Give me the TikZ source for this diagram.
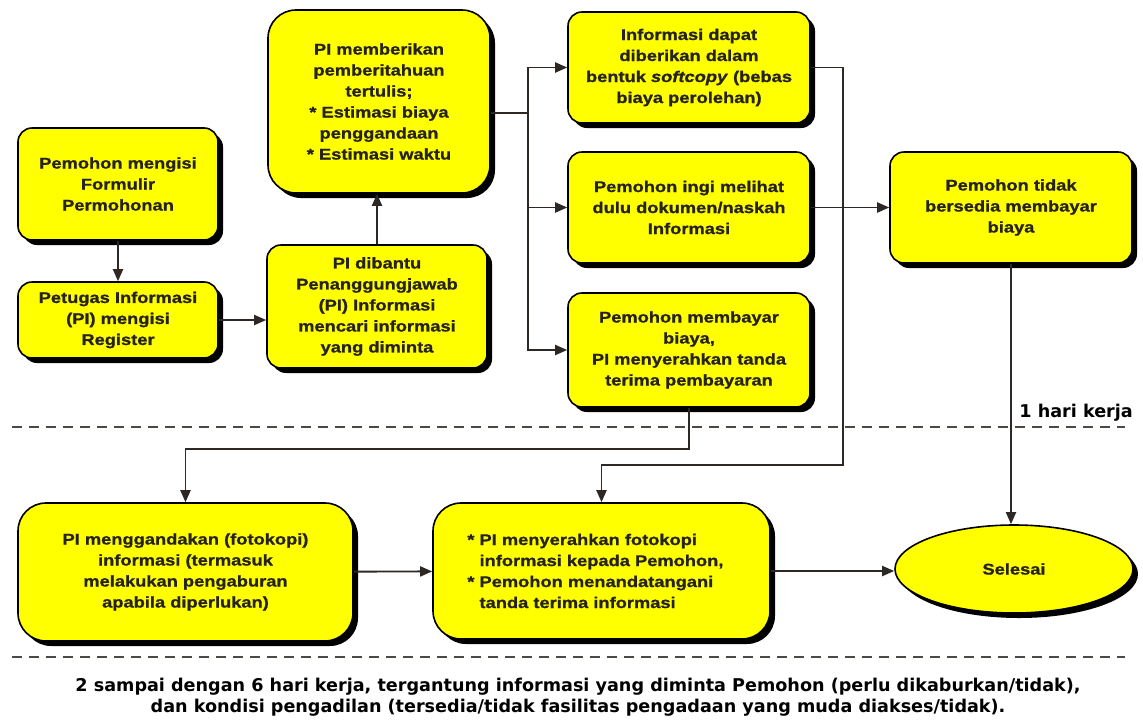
\documentclass[tikz,border=0pt]{standalone}
\usepackage{fontspec}
\usepackage{tikz}
\usetikzlibrary{positioning,arrows.meta,shapes.geometric,shadows,calc}
\newfontfamily\boxfont{Liberation Sans}[FakeStretch=1.18,FakeBold=1]
\newfontfamily\notefont{DejaVu Sans}
\definecolor{yel} {RGB}{255,255,  0}
\definecolor{ink} {RGB}{ 38, 34, 30}
\definecolor{wire}{RGB}{ 45, 40, 35}

\begin{document}
\begin{tikzpicture}[x=1pt,y=-1pt,
    tile/.style={draw=black,line width=1.6pt,fill=yel,text=ink,align=center,inner sep=0pt,
        font=\boxfont\bfseries\fontsize{15.5}{21}\selectfont,
        drop shadow={shadow xshift=5pt,shadow yshift=-5pt,fill=black,opacity=1}},
    box/.style={tile,rounded corners=14pt},
    bigbox/.style={tile,rounded corners=28pt},
    stop/.style={tile,ellipse},
    conn/.style={draw=wire,line width=1.9pt},
    link/.style={conn,-{Triangle[length=12pt,width=10pt]}},
    cut/.style={draw=wire!85,line width=1.7pt,dash pattern=on 10pt off 7pt},
    note/.style={text=black,align=center,inner sep=0pt,
        font=\notefont\bfseries\fontsize{17.6}{20.5}\selectfont}]

    \useasboundingbox (0,0) rectangle (1143,726);

    \node[box,minimum width=200pt,minimum height=112pt] (a) at (118,184) {Pemohon mengisi\\Formulir\\Permohonan};
    \node[box,minimum width=200pt,minimum height=76pt] (b) at (118,320) {Petugas Informasi\\(PI) mengisi\\Register};
    \node[box,minimum width=220pt,minimum height=123pt] (c) at (377,306.5) {PI dibantu\\Penanggungjawab\\(PI) Informasi\\mencari informasi\\yang diminta};
    \node[bigbox,minimum width=222pt,minimum height=183pt] (d) at (379,101.5) {PI memberikan\\pemberitahuan\\tertulis;\\* Estimasi biaya\\penggandaan\\* Estimasi waktu};

    \node[box,minimum width=242pt,minimum height=111pt] (e) at (689,67.5) {Informasi dapat\\diberikan dalam\\bentuk \textit{softcopy} (bebas\\biaya perolehan)};
    \node[box,minimum width=242pt,minimum height=111pt] (f) at (689,207.5) {Pemohon ingi melihat\\dulu dokumen/naskah\\Informasi};
    \node[box,minimum width=242pt,minimum height=114pt] (g) at (689,350) {Pemohon membayar\\biaya,\\PI menyerahkan tanda\\terima pembayaran};
    \node[box,minimum width=242pt,minimum height=111pt] (h) at (1011,207.5) {Pemohon tidak\\bersedia membayar\\biaya};

    \node[bigbox,minimum width=335pt,minimum height=138pt] (i) at (185.5,572) {PI menggandakan (fotokopi)\\informasi (termasuk\\melakukan pengaburan\\apabila diperlukan)};
    \node[bigbox,minimum width=337pt,minimum height=136pt,align=left] (j) at (601.5,571) {\llap{* }PI menyerahkan fotokopi\\informasi kepada Pemohon,\\\llap{* }Pemohon menandatangani\\tanda terima informasi};
    \node[stop,minimum width=238pt,minimum height=88pt] (k) at (1014,569) {Selesai};

    \draw[link] (a) -- (b);
    \draw[link] (b.east) -- (b.east -| c.west);
    \draw[link] (c.north) -- (c.north |- d.south);

    \coordinate (s) at (528,113);
    \draw[conn] (d.east |- s) -- (s);
    \draw[link] (s) |- (e.west);
    \draw[link] (s) |- (f.west);
    \draw[link] (s) |- (g.west);

    \coordinate (t) at (843,465);
    \draw[link] (e.east) -| (t) -| (j.north);
    \draw[link] (f) -- (h);
    \coordinate (u) at (689,449);
    \draw[link] (g.south) -- (u) -| (i.north);
    \draw[link] (h.south) -- (h.south |- k.north);
    \draw[link] (i) -- (j);
    \draw[link] (j.east) -- (j.east -| k.west);

    \draw[cut] (12,427) -- (1125,427);
    \draw[cut] (12,657) -- (1125,657);

    \node[note,anchor=base east] (l) at (1133,417) {1 hari kerja};
    \node[note] (m) at (578,697) {2 sampai dengan 6 hari kerja, tergantung informasi yang diminta Pemohon (perlu dikaburkan/tidak),\\dan kondisi pengadilan (tersedia/tidak fasilitas pengadaan yang muda diakses/tidak).};

\end{tikzpicture}
\end{document}
